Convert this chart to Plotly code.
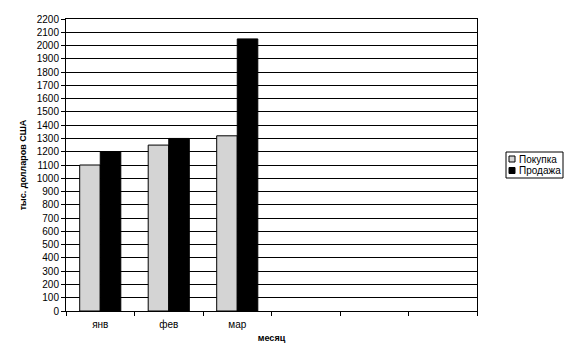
import plotly.graph_objects as go

# Monthly figures, thousand USD
months = ["янв", "фев", "мар"]
spare_slots = [" ", "  ", "   "]          # empty category slots to the right
purchase = [1100, 1250, 1320]
sales = [1200, 1300, 2050]
series_names = ["Покупка", "Продажа"]
series_colors = ["#d4d4d4", "#000000"]

y_ticks = list(range(0, 2201, 100))

W, H = 573, 359
M = dict(l=66, r=96, t=19, b=48)
FONT = "Arial, 'Liberation Sans', sans-serif"


def px_x(px):
    return (px - M["l"]) / (W - M["l"] - M["r"])


def px_y(py):
    return (H - M["b"] - py) / (H - M["t"] - M["b"])


fig = go.Figure()
for name, vals, color in zip(series_names, [purchase, sales], series_colors):
    fig.add_trace(go.Bar(
        x=months, y=vals, name=name,
        marker=dict(color=color, line=dict(color="#000000", width=1)),
        showlegend=False,
    ))

fig.update_layout(
    width=W, height=H,
    margin=M,
    paper_bgcolor="white", plot_bgcolor="white",
    font=dict(family=FONT, size=10, color="#000000"),
    barmode="group", bargap=0.4, bargroupgap=0,
    xaxis=dict(
        type="category",
        categoryorder="array", categoryarray=months + spare_slots,
        range=[-0.5, 5.5],
        tickson="boundaries", ticks="outside", ticklen=4, tickcolor="#000",
        ticklabelstandoff=4,
        showline=True, linecolor="#000", linewidth=1, mirror=True,
        showgrid=False, zeroline=False,
        tickfont=dict(size=10),
        title=dict(text="<b>месяц</b>", font=dict(size=9), standoff=5),
    ),
    yaxis=dict(
        range=[0, 2200], tickvals=y_ticks,
        ticks="outside", ticklen=4, tickcolor="#000",
        showline=True, linecolor="#000", linewidth=1, mirror=True,
        showgrid=True, gridcolor="#000", gridwidth=1, zeroline=False,
        tickfont=dict(size=10),
        title=dict(text="<b>тыс. долларов США</b>", font=dict(size=9), standoff=8),
    ),
)

# Legend box on the right
box = dict(x0=506, x1=563, y0=152, y1=178)
fig.add_shape(type="rect", xref="paper", yref="paper",
              x0=px_x(box["x0"]), x1=px_x(box["x1"]),
              y0=px_y(box["y1"]), y1=px_y(box["y0"]),
              line=dict(color="#000", width=1), fillcolor="white")
for i, (name, color) in enumerate(zip(series_names, series_colors)):
    cy = 159 + i * 11.5
    fig.add_shape(type="rect", xref="paper", yref="paper",
                  x0=px_x(509), x1=px_x(515),
                  y0=px_y(cy + 3), y1=px_y(cy - 3),
                  line=dict(color="#000", width=1), fillcolor=color)
    fig.add_annotation(xref="paper", yref="paper",
                       x=px_x(517), y=px_y(cy), text=name,
                       showarrow=False, xanchor="left", yanchor="middle",
                       font=dict(size=10))

fig.write_html("out.html")
